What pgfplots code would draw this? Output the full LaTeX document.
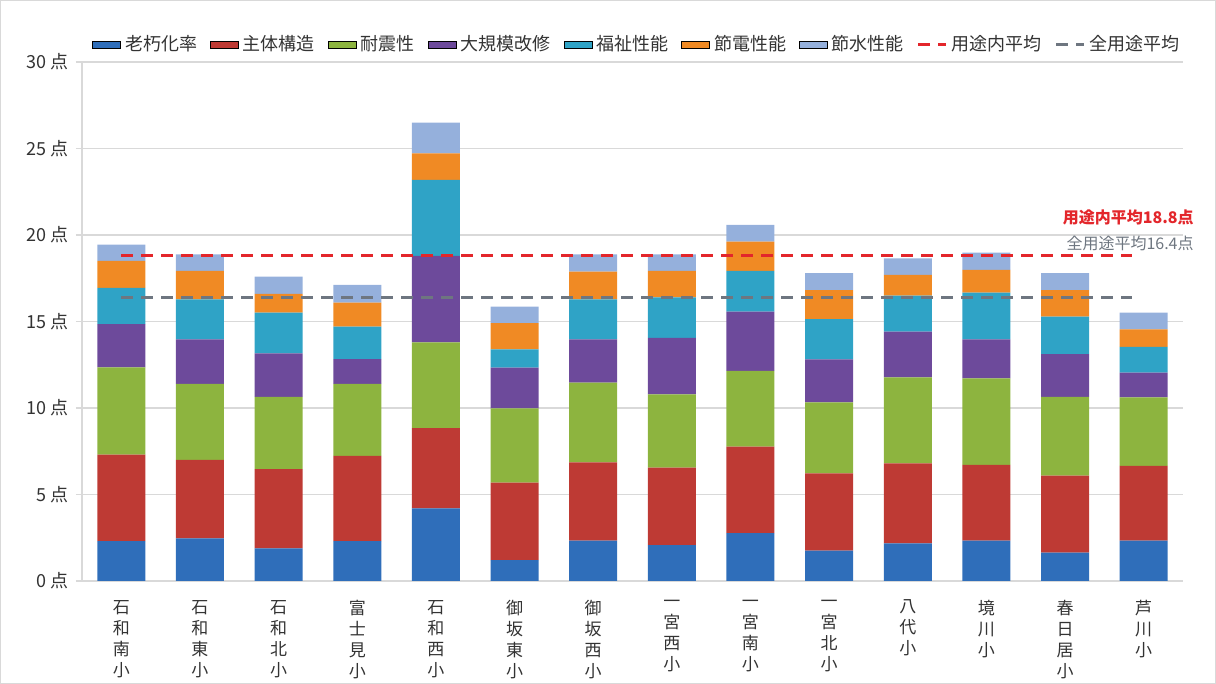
\documentclass[border=0pt]{standalone}
\usepackage{pgfplots}
\usepackage{pgfplotstable}
\pgfplotsset{compat=1.18}
\usepackage{fontspec}
\setmainfont{Noto Sans CJK JP}
\definecolor{c1}{HTML}{2F6EBA}
\definecolor{c2}{HTML}{BE3A34}
\definecolor{c3}{HTML}{8DB43F}
\definecolor{c4}{HTML}{6D4A9B}
\definecolor{c5}{HTML}{2FA3C6}
\definecolor{c6}{HTML}{F08A24}
\definecolor{c7}{HTML}{95B0DC}
\definecolor{avgred}{HTML}{E3262B}
\definecolor{avggray}{HTML}{6E7680}
\definecolor{gridc}{HTML}{D9D9D9}
\pgfplotstableread{
x a b c d e f g
0 2.30 5.00 5.05 2.50 2.10 1.55 0.95
1 2.47 4.53 4.39 2.58 2.31 1.64 0.96
2 1.89 4.58 4.18 2.51 2.35 1.08 1.00
3 2.31 4.92 4.16 1.44 1.87 1.39 1.02
4 4.20 4.63 4.97 5.00 4.38 1.54 1.77
5 1.21 4.47 4.30 2.35 1.06 1.51 0.96
6 2.33 4.53 4.60 2.51 2.31 1.60 1.00
7 2.08 4.47 4.24 3.27 2.34 1.52 0.96
8 2.76 5.00 4.38 3.43 2.35 1.69 0.97
9 1.75 4.47 4.11 2.48 2.32 1.69 0.97
10 2.18 4.62 4.97 2.64 2.08 1.20 0.96
11 2.33 4.38 5.00 2.26 2.70 1.31 1.00
12 1.64 4.45 4.56 2.47 2.16 1.54 0.97
13 2.33 4.32 3.97 1.42 1.50 1.01 0.96
}\data
\pgfplotsset{
  common/.style={
    scale only axis, width=550.5pt, height=259.5pt,
    xmin=-0.5, xmax=13.5, ymin=0, ymax=30,
  },
  barleg/.style={legend image code/.code={\fill[##1] (0pt,-1.7pt) rectangle (14pt,1.7pt);}},
  lineleg/.style={legend image code/.code={\draw[##1] (0pt,0pt) -- (14pt,0pt);}},
}
\begin{document}
\begin{tikzpicture}
\begin{axis}[common,
  ybar stacked, bar width=24pt,
  axis lines*=left,
  axis line style={gridc, line width=0.6pt},
  ymajorgrids, grid style={gridc, line width=0.6pt},
  ytick={0,5,10,15,20,25,30},
  yticklabels={0 点,5 点,10 点,15 点,20 点,25 点,30 点},
  yticklabel style={font=\fontsize{9}{10}\selectfont, text=black!80},
  ytick style={gridc, line width=0.6pt},
  tick align=outside, major tick length=3pt,
  xtick={0,...,13},
  x tick style={draw=none},
  xticklabels={{石\\和\\南\\小},{石\\和\\東\\小},{石\\和\\北\\小},{富\\士\\見\\小},{石\\和\\西\\小},{御\\坂\\東\\小},{御\\坂\\西\\小},{一\\宮\\西\\小},{一\\宮\\南\\小},{一\\宮\\北\\小},{八\\代\\小},{境\\川\\小},{春\\日\\居\\小},{芦\\川\\小}},
  xticklabel style={align=center, font=\fontsize{8.5}{10.5}\selectfont, text=black!80, anchor=north, yshift=-3pt},
]
\addplot[fill=c1, draw=none] table[x=x, y=a] {\data};
\addplot[fill=c2, draw=none] table[x=x, y=b] {\data};
\addplot[fill=c3, draw=none] table[x=x, y=c] {\data};
\addplot[fill=c4, draw=none] table[x=x, y=d] {\data};
\addplot[fill=c5, draw=none] table[x=x, y=e] {\data};
\addplot[fill=c6, draw=none] table[x=x, y=f] {\data};
\addplot[fill=c7, draw=none] table[x=x, y=g] {\data};
\end{axis}
\begin{axis}[common,
  axis lines=none, clip=false,
  legend columns=-1,
  legend style={at={(rel axis cs:0.009,1.033)}, anchor=west, draw=none, fill=none,
    inner sep=0pt, font=\fontsize{9}{10}\selectfont,
    /tikz/every even column/.append style={column sep=4.5pt},
    nodes={inner xsep=2pt, text=black!80}},
]
\addlegendimage{barleg, fill=c1}\addlegendentry{老朽化率}
\addlegendimage{barleg, fill=c2}\addlegendentry{主体構造}
\addlegendimage{barleg, fill=c3}\addlegendentry{耐震性}
\addlegendimage{barleg, fill=c4}\addlegendentry{大規模改修}
\addlegendimage{barleg, fill=c5}\addlegendentry{福祉性能}
\addlegendimage{barleg, fill=c6}\addlegendentry{節電性能}
\addlegendimage{barleg, fill=c7}\addlegendentry{節水性能}
\addplot[lineleg, avgred, line width=1.5pt, dash pattern=on 6pt off 4pt] coordinates {(0,18.8) (12.85,18.8)};
\addlegendentry{用途内平均}
\addplot[lineleg, avggray, line width=1.5pt, dash pattern=on 6pt off 4pt] coordinates {(0,16.4) (12.85,16.4)};
\addlegendentry{全用途平均}
\node[anchor=east, inner sep=0pt, font=\fontsize{8}{9}\selectfont\bfseries, text=avgred] at (axis cs:13.64,21.0) {用途内平均18.8点};
\node[anchor=east, inner sep=0pt, font=\fontsize{8}{9}\selectfont, text=avggray] at (axis cs:13.64,19.5) {全用途平均16.4点};
\end{axis}
\pgfresetboundingbox
\draw[gray!30, line width=0.5pt] (-40.75pt,-51.25pt) rectangle (566.75pt,290.25pt);
\end{tikzpicture}
\end{document}
